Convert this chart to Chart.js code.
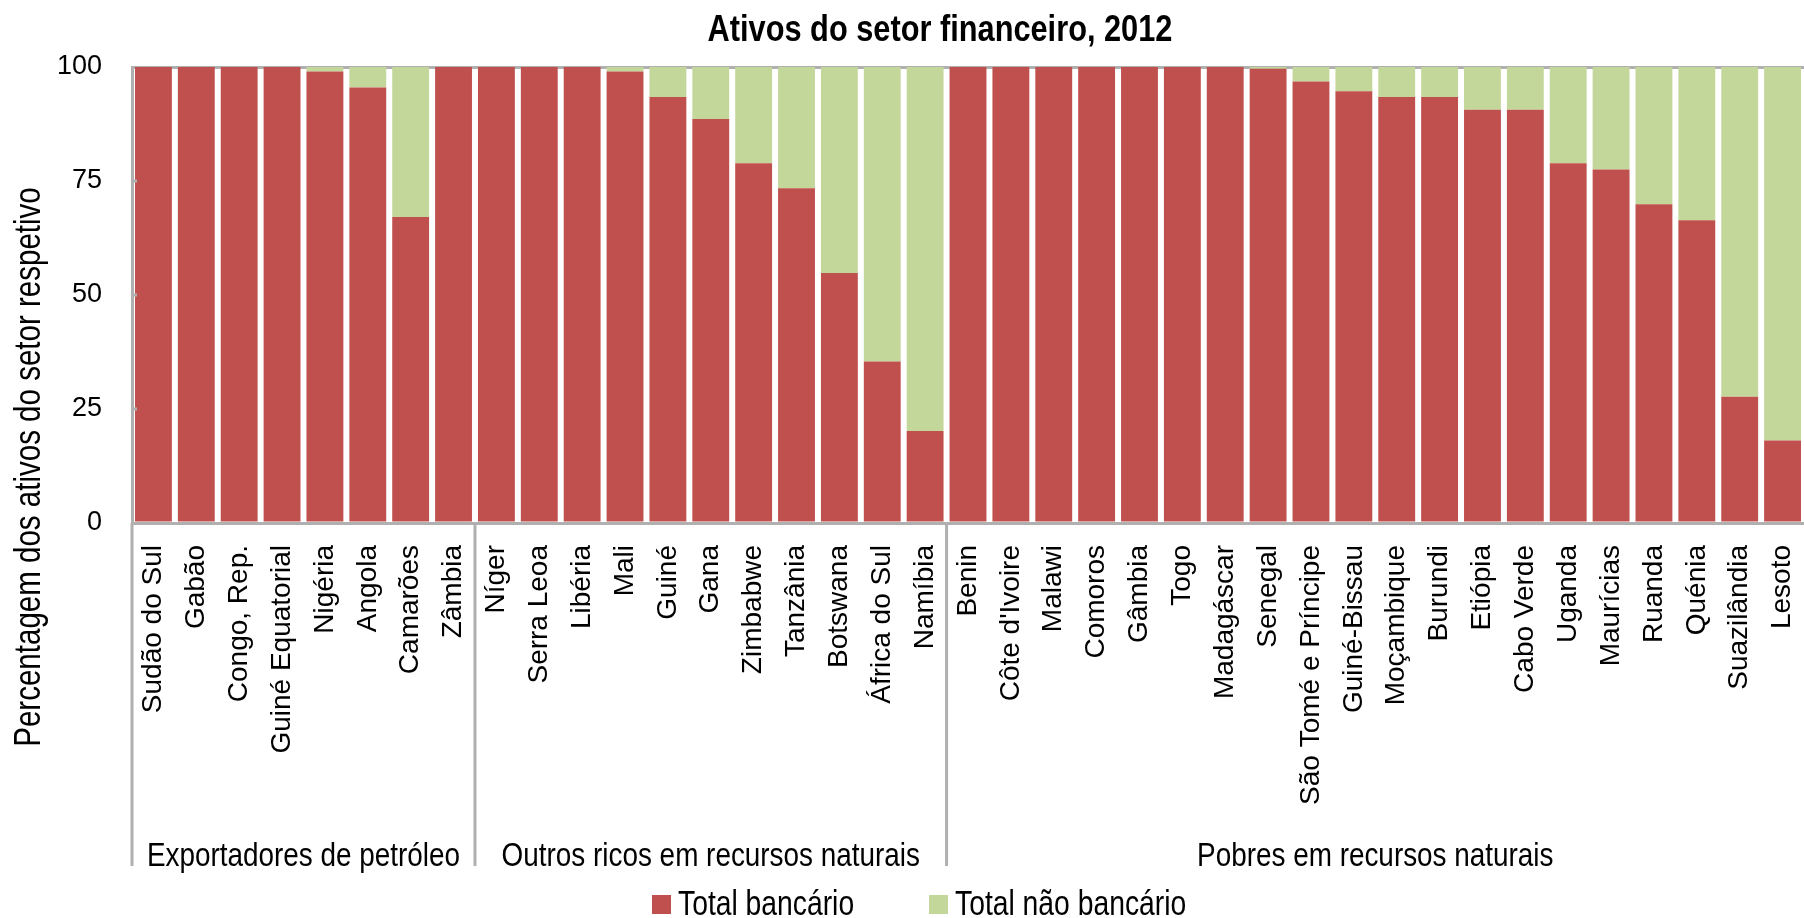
<!DOCTYPE html>
<html lang="pt">
<head>
<meta charset="utf-8">
<title>Ativos do setor financeiro, 2012</title>
<script src="https://cdn.jsdelivr.net/npm/chart.js@4.4.1/dist/chart.umd.min.js"></script>
<style>
  html, body { margin: 0; padding: 0; background: #fff; }
  #wrap { width: 1804px; height: 918px; position: relative; }
</style>
</head>
<body>
<div id="wrap"><canvas id="chart"></canvas></div>
<script>
"use strict";

// 数据：2012 年金融部门资产构成（%）
const title = "Ativos do setor financeiro, 2012";
const yTitle = "Percentagem dos ativos do setor respetivo";

const countries = [
  "Sudão do Sul", "Gabão", "Congo, Rep.", "Guiné Equatorial", "Nigéria", "Angola", "Camarões", "Zâmbia",
  "Níger", "Serra Leoa", "Libéria", "Mali", "Guiné", "Gana", "Zimbabwe", "Tanzânia", "Botswana", "África do Sul", "Namíbia",
  "Benin", "Côte d'Ivoire", "Malawi", "Comoros", "Gâmbia", "Togo", "Madagáscar", "Senegal", "São Tomé e Príncipe",
  "Guiné-Bissau", "Moçambique", "Burundi", "Etiópia", "Cabo Verde", "Uganda", "Maurícias", "Ruanda", "Quénia",
  "Suazilândia", "Lesoto",
];

const groupNames = ["Exportadores de petróleo", "Outros ricos em recursos naturais", "Pobres em recursos naturais"];
const groupSizes = [8, 11, 20];

const seriesNames = ["Total bancário", "Total não bancário"];

const bankShare = [
  100, 100, 100, 100, 99, 95.5, 67.1, 100,
  100, 100, 100, 99, 93.4, 88.6, 78.9, 73.4, 54.8, 35.4, 20.2,
  100, 100, 100, 100, 100, 100, 100, 99.6, 96.8,
  94.7, 93.4, 93.4, 90.6, 90.6, 78.9, 77.5, 69.9, 66.4,
  27.7, 18.1,
];

const nonBankShare = [
  0, 0, 0, 0, 1, 4.5, 32.9, 0,
  0, 0, 0, 1, 6.6, 11.4, 21.1, 26.6, 45.2, 64.6, 79.8,
  0, 0, 0, 0, 0, 0, 0, 0.4, 3.2,
  5.3, 6.6, 6.6, 9.4, 9.4, 21.1, 22.5, 30.1, 33.6,
  72.3, 81.9,
];

const yTicks = [0, 25, 50, 75, 100];

const RED = "#c0504d";
const GREEN = "#c4d79b";
const AXIS = "#b0b0b0";
const FONT = "'Liberation Sans', Arial, sans-serif";

// 没有 Arial Narrow，用横向压缩模拟窄体
function narrowText(ctx, text, x, y, size, opts = {}) {
  ctx.save();
  ctx.translate(x, y);
  if (opts.rotate) ctx.rotate(opts.rotate);
  ctx.scale(0.82, 1);
  ctx.font = `${opts.bold ? "bold " : ""}${size}px ${FONT}`;
  ctx.textAlign = opts.align || "center";
  ctx.textBaseline = "alphabetic";
  ctx.fillStyle = "#000";
  ctx.fillText(text, 0, 0);
  ctx.restore();
}

// 标题、纵轴标题、分组标签、图例
const decorations = {
  id: "decorations",
  afterDraw(chart) {
    const { ctx, chartArea } = chart;
    const xs = chart.scales.x;
    const ys = chart.scales.y;
    ctx.save();

    narrowText(ctx, title, 940, 41, 37.5, { bold: true });

    // 纵轴小刻度（朝内）
    ctx.strokeStyle = AXIS;
    ctx.lineWidth = 3;
    yTicks.slice(1, -1).forEach((v) => {
      const py = ys.getPixelForValue(v);
      ctx.beginPath();
      ctx.moveTo(chartArea.left, py);
      ctx.lineTo(chartArea.left + 5, py);
      ctx.stroke();
    });

    narrowText(ctx, yTitle, 40, 467, 36, { rotate: -Math.PI / 2 });

    // 分组分隔线和标签
    const pitch = xs.getPixelForValue(1) - xs.getPixelForValue(0);
    const edge = (i) => xs.getPixelForValue(i) - pitch / 2;
    let start = 0;
    groupSizes.forEach((n, g) => {
      const left = g === 0 ? chartArea.left : edge(start);
      const right = start + n >= countries.length ? chartArea.right : edge(start + n);
      ctx.beginPath();
      ctx.moveTo(left, chartArea.bottom);
      ctx.lineTo(left, 866);
      ctx.stroke();
      narrowText(ctx, groupNames[g], (left + right) / 2, 866, 34);
      start += n;
    });

    // 图例
    const legendX = [652, 929];
    chart.data.datasets.forEach((ds, i) => {
      ctx.fillStyle = ds.backgroundColor;
      ctx.fillRect(legendX[i], 895, 19, 19);
      narrowText(ctx, ds.label, legendX[i] + 26, 915, 34.5, { align: "left" });
    });
    ctx.restore();
  },
};

new Chart(document.getElementById("chart"), {
  type: "bar",
  data: {
    labels: countries,
    datasets: [
      { label: seriesNames[0], data: bankShare, backgroundColor: RED },
      { label: seriesNames[1], data: nonBankShare, backgroundColor: GREEN },
    ],
  },
  options: {
    responsive: true,
    maintainAspectRatio: false,
    animation: false,
    layout: { padding: { top: 67, left: 0, right: 0, bottom: 0 } },
    datasets: { bar: { categoryPercentage: 1, barPercentage: 0.86 } },
    plugins: { legend: { display: false }, title: { display: false }, tooltip: { enabled: false } },
    scales: {
      x: {
        stacked: true,
        z: 1,
        grid: { display: false, drawTicks: false },
        border: { display: true, color: AXIS, width: 3 },
        ticks: {
          autoSkip: false,
          maxRotation: 90,
          minRotation: 90,
          padding: 22,
          color: "#000",
          font: { family: FONT, size: 28 },
        },
        afterFit: (s) => {
          s.height = 395;
          s.paddingLeft = 0;
          s.paddingRight = 0;
        },
      },
      y: {
        stacked: true,
        min: 0,
        max: 100,
        z: 1,
        afterBuildTicks: (s) => { s.ticks = yTicks.map((v) => ({ value: v })); },
        grid: {
          drawTicks: false,
          lineWidth: 3,
          color: (c) => (c.tick && c.tick.value === 100 ? AXIS : "rgba(0,0,0,0)"),
        },
        border: { display: true, color: AXIS, width: 3 },
        ticks: {
          padding: 30,
          color: "#000",
          font: { family: FONT, size: 27 },
        },
        afterFit: (s) => { s.width = 132; },
      },
    },
  },
  plugins: [decorations],
});
</script>
</body>
</html>
